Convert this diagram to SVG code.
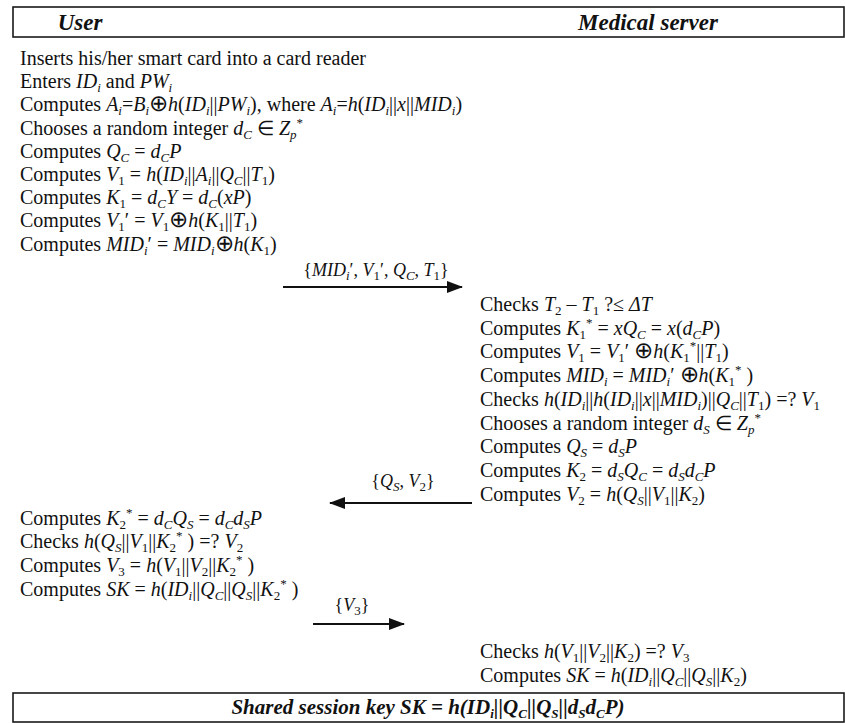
<svg xmlns="http://www.w3.org/2000/svg" width="845" height="723" viewBox="0 0 845 723">
<style>
text{font-family:"Liberation Serif","Times New Roman",serif;font-size:20px;fill:#111}
.i{font-style:italic}
.s{font-size:13px;baseline-shift:-4px}
.u{font-size:13px;baseline-shift:8px}
.o{font-size:23px}
.lbl{font-size:18px}
.hd{font-weight:bold;font-style:italic;font-size:23px}
.bi{font-weight:bold;font-style:italic;font-size:21px}
.bx{fill:#fff;stroke:#1a1a1a;stroke-width:1.6}
.ar{stroke:#111;stroke-width:2;fill:none;marker-end:url(#ah)}
</style>
<defs>
<marker id="ah" viewBox="0 0 16 12" refX="15" refY="6" markerWidth="16" markerHeight="12" markerUnits="userSpaceOnUse" orient="auto">
<path d="M0,0 L16,6 L0,12 Z" fill="#111"/>
</marker>
</defs>
<rect width="845" height="723" fill="#fff"/>
<g id="header">
<rect class="bx" x="13" y="7" width="831" height="30"/>
<text class="hd" x="80" y="30" text-anchor="middle">User</text>
<text class="hd" x="648" y="30" text-anchor="middle">Medical server</text>
</g>
<g id="user-step1">
<text x="20" y="65">Inserts his/her smart card into a card reader</text>
<text x="20" y="88">Enters <tspan class="i">ID</tspan><tspan class="i s">i</tspan> and <tspan class="i">PW</tspan><tspan class="i s">i</tspan></text>
<text x="20" y="111">Computes <tspan class="i">A</tspan><tspan class="i s">i</tspan>=<tspan class="i">B</tspan><tspan class="i s">i</tspan><tspan class="o">⊕</tspan><tspan class="i">h</tspan>(<tspan class="i">ID</tspan><tspan class="i s">i</tspan>||<tspan class="i">PW</tspan><tspan class="i s">i</tspan>), where <tspan class="i">A</tspan><tspan class="i s">i</tspan>=<tspan class="i">h</tspan>(<tspan class="i">ID</tspan><tspan class="i s">i</tspan>||<tspan class="i">x</tspan>||<tspan class="i">MID</tspan><tspan class="i s">i</tspan>)</text>
<text x="20" y="135">Chooses a random integer <tspan class="i">d</tspan><tspan class="i s">C</tspan> ∈ <tspan class="i">Z</tspan><tspan class="i s">p</tspan><tspan class="u">*</tspan></text>
<text x="20" y="158">Computes <tspan class="i">Q</tspan><tspan class="i s">C</tspan> = <tspan class="i">d</tspan><tspan class="i s">C</tspan><tspan class="i">P</tspan></text>
<text x="20" y="181">Computes <tspan class="i">V</tspan><tspan class="s">1</tspan> = <tspan class="i">h</tspan>(<tspan class="i">ID</tspan><tspan class="i s">i</tspan>||<tspan class="i">A</tspan><tspan class="i s">i</tspan>||<tspan class="i">Q</tspan><tspan class="i s">C</tspan>||<tspan class="i">T</tspan><tspan class="s">1</tspan>)</text>
<text x="20" y="204">Computes <tspan class="i">K</tspan><tspan class="s">1</tspan> = <tspan class="i">d</tspan><tspan class="i s">C</tspan><tspan class="i">Y</tspan> = <tspan class="i">d</tspan><tspan class="i s">C</tspan>(<tspan class="i">xP</tspan>)</text>
<text x="20" y="227">Computes  <tspan class="i">V</tspan><tspan class="s">1</tspan>′ = <tspan class="i">V</tspan><tspan class="s">1</tspan><tspan class="o">⊕</tspan><tspan class="i">h</tspan>(<tspan class="i">K</tspan><tspan class="s">1</tspan>||<tspan class="i">T</tspan><tspan class="s">1</tspan>)</text>
<text x="20" y="251">Computes  <tspan class="i">MID</tspan><tspan class="i s">i</tspan>′ = <tspan class="i">MID</tspan><tspan class="i s">i</tspan><tspan class="o">⊕</tspan><tspan class="i">h</tspan>(<tspan class="i">K</tspan><tspan class="s">1</tspan>)</text>
</g>
<g id="server-step1">
<text x="480" y="311">Checks <tspan class="i">T</tspan><tspan class="s">2</tspan> – <tspan class="i">T</tspan><tspan class="s">1</tspan> ?≤ <tspan class="i">ΔT</tspan></text>
<text x="480" y="335">Computes <tspan class="i">K</tspan><tspan class="s">1</tspan><tspan class="u">*</tspan> = <tspan class="i">xQ</tspan><tspan class="i s">C</tspan> = <tspan class="i">x</tspan>(<tspan class="i">d</tspan><tspan class="i s">C</tspan><tspan class="i">P</tspan>)</text>
<text x="480" y="358">Computes <tspan class="i">V</tspan><tspan class="s">1</tspan> = <tspan class="i">V</tspan><tspan class="s">1</tspan>′ <tspan class="o">⊕</tspan><tspan class="i">h</tspan>(<tspan class="i">K</tspan><tspan class="s">1</tspan><tspan class="u">*</tspan>||<tspan class="i">T</tspan><tspan class="s">1</tspan>)</text>
<text x="480" y="382">Computes <tspan class="i">MID</tspan><tspan class="i s">i</tspan> = <tspan class="i">MID</tspan><tspan class="i s">i</tspan>′ <tspan class="o">⊕</tspan><tspan class="i">h</tspan>(<tspan class="i">K</tspan><tspan class="s">1</tspan><tspan class="u">*</tspan> )</text>
<text x="480" y="406">Checks <tspan class="i">h</tspan>(<tspan class="i">ID</tspan><tspan class="i s">i</tspan>||<tspan class="i">h</tspan>(<tspan class="i">ID</tspan><tspan class="i s">i</tspan>||<tspan class="i">x</tspan>||<tspan class="i">MID</tspan><tspan class="i s">i</tspan>)||<tspan class="i">Q</tspan><tspan class="i s">C</tspan>||<tspan class="i">T</tspan><tspan class="s">1</tspan>)  =? <tspan class="i">V</tspan><tspan class="s">1</tspan></text>
<text x="480" y="430">Chooses a random integer <tspan class="i">d</tspan><tspan class="i s">S</tspan> ∈ <tspan class="i">Z</tspan><tspan class="i s">p</tspan><tspan class="u">*</tspan></text>
<text x="480" y="453">Computes <tspan class="i">Q</tspan><tspan class="i s">S</tspan> = <tspan class="i">d</tspan><tspan class="i s">S</tspan><tspan class="i">P</tspan></text>
<text x="480" y="477">Computes <tspan class="i">K</tspan><tspan class="s">2</tspan> = <tspan class="i">d</tspan><tspan class="i s">S</tspan><tspan class="i">Q</tspan><tspan class="i s">C</tspan> = <tspan class="i">d</tspan><tspan class="i s">S</tspan><tspan class="i">d</tspan><tspan class="i s">C</tspan><tspan class="i">P</tspan></text>
<text x="480" y="501">Computes <tspan class="i">V</tspan><tspan class="s">2</tspan> = <tspan class="i">h</tspan>(<tspan class="i">Q</tspan><tspan class="i s">S</tspan>||<tspan class="i">V</tspan><tspan class="s">1</tspan>||<tspan class="i">K</tspan><tspan class="s">2</tspan>)</text>
</g>
<g id="user-step2">
<text x="20" y="525">Computes <tspan class="i">K</tspan><tspan class="s">2</tspan><tspan class="u">*</tspan> = <tspan class="i">d</tspan><tspan class="i s">C</tspan><tspan class="i">Q</tspan><tspan class="i s">S</tspan> = <tspan class="i">d</tspan><tspan class="i s">C</tspan><tspan class="i">d</tspan><tspan class="i s">S</tspan><tspan class="i">P</tspan></text>
<text x="20" y="548">Checks <tspan class="i">h</tspan>(<tspan class="i">Q</tspan><tspan class="i s">S</tspan>||<tspan class="i">V</tspan><tspan class="s">1</tspan>||<tspan class="i">K</tspan><tspan class="s">2</tspan><tspan class="u">*</tspan> )  =? <tspan class="i">V</tspan><tspan class="s">2</tspan></text>
<text x="20" y="572">Computes <tspan class="i">V</tspan><tspan class="s">3</tspan> = <tspan class="i">h</tspan>(<tspan class="i">V</tspan><tspan class="s">1</tspan>||<tspan class="i">V</tspan><tspan class="s">2</tspan>||<tspan class="i">K</tspan><tspan class="s">2</tspan><tspan class="u">*</tspan> )</text>
<text x="20" y="596">Computes <tspan class="i">SK</tspan> = <tspan class="i">h</tspan>(<tspan class="i">ID</tspan><tspan class="i s">i</tspan>||<tspan class="i">Q</tspan><tspan class="i s">C</tspan>||<tspan class="i">Q</tspan><tspan class="i s">S</tspan>||<tspan class="i">K</tspan><tspan class="s">2</tspan><tspan class="u">*</tspan> )</text>
</g>
<g id="server-step2">
<text x="480" y="658">Checks <tspan class="i">h</tspan>(<tspan class="i">V</tspan><tspan class="s">1</tspan>||<tspan class="i">V</tspan><tspan class="s">2</tspan>||<tspan class="i">K</tspan><tspan class="s">2</tspan>) =? <tspan class="i">V</tspan><tspan class="s">3</tspan></text>
<text x="480" y="682">Computes <tspan class="i">SK</tspan> = <tspan class="i">h</tspan>(<tspan class="i">ID</tspan><tspan class="i s">i</tspan>||<tspan class="i">Q</tspan><tspan class="i s">C</tspan>||<tspan class="i">Q</tspan><tspan class="i s">S</tspan>||<tspan class="i">K</tspan><tspan class="s">2</tspan>)</text>
</g>
<g id="connectors">
<line class="ar" x1="283" y1="287" x2="462" y2="287"/>
<text class="lbl" x="376" y="276" text-anchor="middle">{<tspan class="i">MID</tspan><tspan class="i s">i</tspan>′, <tspan class="i">V</tspan><tspan class="s">1</tspan>′, <tspan class="i">Q</tspan><tspan class="i s">C</tspan>, <tspan class="i">T</tspan><tspan class="s">1</tspan>}</text>
<line class="ar" x1="472" y1="503" x2="330" y2="503"/>
<text class="lbl" x="403" y="487" text-anchor="middle">{<tspan class="i">Q</tspan><tspan class="i s">S</tspan>, <tspan class="i">V</tspan><tspan class="s">2</tspan>}</text>
<line class="ar" x1="313" y1="624" x2="404" y2="624"/>
<text class="lbl" x="352" y="611" text-anchor="middle">{<tspan class="i">V</tspan><tspan class="s">3</tspan>}</text>
</g>
<g id="session-key">
<rect class="bx" x="13" y="693" width="831" height="29"/>
<text class="bi" x="428" y="714" text-anchor="middle">Shared session key SK = h(ID<tspan class="s">i</tspan>||Q<tspan class="s">C</tspan>||Q<tspan class="s">S</tspan>||d<tspan class="s">S</tspan>d<tspan class="s">C</tspan>P)</text>
</g>
</svg>
